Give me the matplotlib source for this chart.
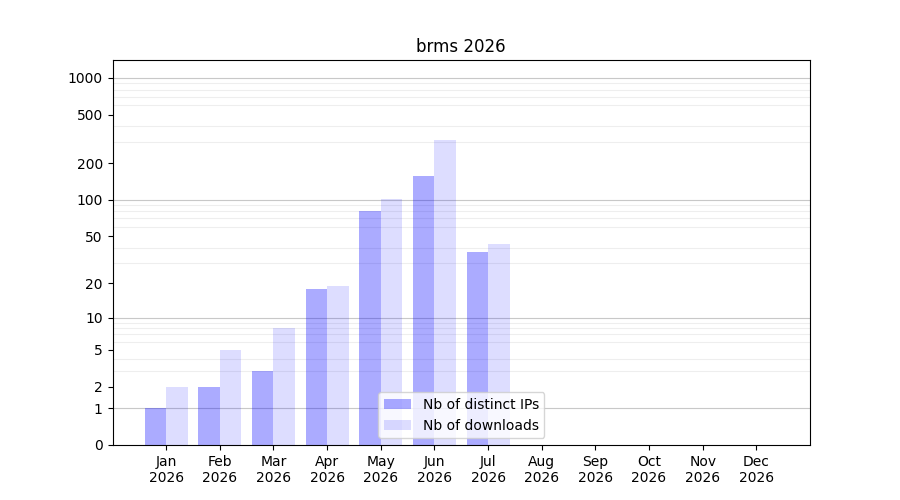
import numpy as np
import matplotlib.pyplot as plt
from matplotlib.ticker import FixedLocator

months = ["Jan", "Feb", "Mar", "Apr", "May", "Jun", "Jul", "Aug", "Sep", "Oct", "Nov", "Dec"]
year = 2026
ips = [1, 2, 3, 18, 81, 158, 37, 0, 0, 0, 0, 0]
downloads = [2, 5, 8, 19, 101, 311, 43, 0, 0, 0, 0, 0]
yticks = [0, 1, 2, 5, 10, 20, 50, 100, 200, 500, 1000]


def fwd(v):
    return np.log10(np.asarray(v, dtype=float) + 1)


def inv(v):
    return 10 ** np.asarray(v, dtype=float) - 1


def main():
    fig, ax = plt.subplots(figsize=(9, 5), dpi=100)
    ax.set_axisbelow(True)
    x = np.arange(len(months))
    w = 0.4
    ax.bar(x - w / 2, ips, w, color="blue", alpha=0.33, label="Nb of distinct IPs", zorder=2)
    ax.bar(x + w / 2, downloads, w, color="blue", alpha=0.133, label="Nb of downloads", zorder=2)

    ax.set_yscale("function", functions=(fwd, inv))
    ax.set_ylim(0, 1400)
    ax.set_xlim(-1, 12)

    ax.yaxis.set_major_locator(FixedLocator(yticks))
    ax.set_yticklabels([str(t) for t in yticks])
    minor = [m * d for d in (1, 10, 100) for m in range(2, 10)]
    ax.yaxis.set_minor_locator(FixedLocator(minor))
    ax.tick_params(axis="y", which="minor", length=0)
    ax.grid(which="minor", axis="y", color="#eeeeee", linewidth=0.8)
    for d in (1, 10, 100, 1000):
        ax.axhline(d, color="#c8c8c8", linewidth=0.8, zorder=1)

    ax.set_xticks(x)
    ax.set_xticklabels([f"{m}\n{year}" for m in months])
    ax.set_title(f"brms {year}")
    ax.legend(loc="lower center")
    fig.savefig("out.png")


if __name__ == '__main__':
    main()
